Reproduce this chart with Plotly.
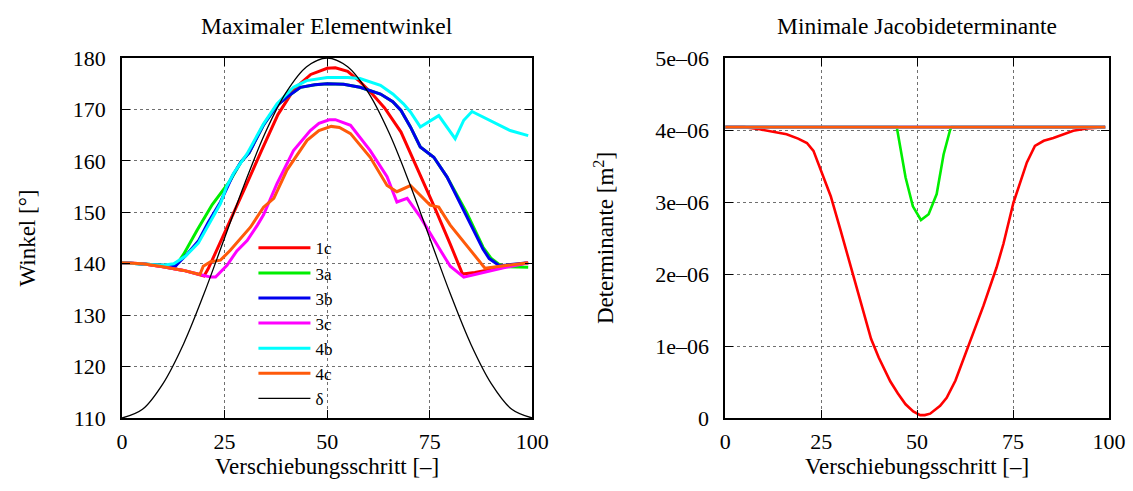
import plotly.graph_objects as go

# ---------------- data: left panel (Maximaler Elementwinkel) ----------------
x_1c = [0, 5, 10, 15, 20, 21, 23, 26, 30, 34, 38, 42, 46, 50, 52, 55, 58, 61, 64, 68, 72, 76, 80, 83, 86, 90, 95, 99]
y_1c = [140.2, 140.0, 139.4, 138.7, 137.6, 139.0, 142.5, 147.7, 154.8, 162.0, 169.0, 174.0, 176.8, 178.0, 178.1, 177.4, 175.4, 173.0, 170.3, 165.6, 158.5, 151.3, 143.8, 138.0, 138.3, 138.9, 139.6, 140.2]

x_3a = [0, 5, 10, 13, 15, 18.3, 22, 26.4, 29, 31, 34.5, 37.8, 40.2, 43.5, 47, 50, 54, 58, 63, 66, 68, 70.3, 72.7, 76, 79.2, 84, 88, 90, 92, 94, 99]
y_3a = [140.2, 140.0, 139.7, 139.5, 141.8, 146.5, 151.5, 156.2, 159.8, 161.6, 167.0, 170.8, 172.4, 174.3, 174.8, 175.0, 174.9, 174.3, 173.0, 171.5, 169.8, 166.6, 162.7, 160.7, 156.9, 149.9, 143.2, 141.0, 139.8, 139.4, 139.3]

x_3b = [0, 5, 10, 13, 16, 18.6, 21, 24, 27, 29, 31, 34.5, 37.8, 40.2, 43.5, 47, 50, 54, 58, 63, 66, 68, 70.3, 72.7, 76, 79.2, 83.3, 88, 89.5, 92, 99]
y_3b = [140.2, 140.0, 139.7, 139.5, 142.0, 144.4, 148.0, 152.0, 157.2, 159.8, 161.6, 167.0, 170.8, 172.4, 174.3, 174.8, 175.0, 174.9, 174.3, 173.0, 171.5, 169.8, 166.6, 162.7, 160.7, 156.9, 150.4, 142.8, 141.0, 139.6, 140.2]

x_3c = [0, 5, 10, 15, 19, 21.6, 22.8, 25.6, 28, 30.5, 33, 34.5, 37.8, 41.8, 45.9, 48, 50.5, 52, 55.7, 60.5, 64.6, 67, 69.5, 72.7, 77.6, 80, 83.3, 88, 93, 99]
y_3c = [140.2, 140.0, 139.4, 138.7, 137.9, 137.4, 137.4, 139.7, 142.5, 144.5, 147.5, 149.5, 155.6, 162.0, 165.9, 167.3, 168.0, 168.0, 166.9, 162.0, 156.9, 152.0, 152.7, 149.1, 142.6, 139.5, 137.4, 138.3, 139.2, 140.2]

x_4b = [0, 5, 10, 12.6, 15.5, 18.6, 21, 24, 25.5, 27.2, 30.5, 32, 34.5, 37.8, 41.8, 45, 50, 55, 58, 63, 66, 68.6, 70.3, 72.7, 77.2, 81.2, 83.3, 85.3, 90.6, 94.6, 99]
y_4b = [140.2, 140.0, 139.7, 140.0, 141.5, 144.0, 147.5, 151.7, 155.0, 157.6, 161.4, 163.5, 167.2, 171.1, 174.3, 175.6, 176.2, 176.2, 176.0, 174.7, 173.0, 171.1, 169.5, 166.6, 168.8, 164.3, 167.9, 169.6, 167.5, 165.9, 164.9]

x_4c = [0, 5, 10, 15, 19, 19.8, 21.6, 24, 26.4, 28, 31.3, 34.5, 37, 40.2, 45.1, 48, 51, 53, 55.7, 60.5, 64.6, 67, 70.3, 75.1, 77.2, 80, 84.9, 88.5, 93, 99]
y_4c = [140.2, 140.0, 139.4, 138.7, 137.9, 139.5, 140.4, 140.7, 142.6, 144.0, 147.1, 151.0, 152.7, 158.2, 164.0, 165.9, 166.7, 166.5, 165.3, 160.7, 155.2, 154.0, 155.2, 151.4, 151.0, 147.5, 142.6, 139.1, 139.6, 140.2]

x_delta = [0, 5, 10, 15, 20, 25, 30, 35, 40, 45, 50, 55, 60, 65, 70, 75, 80, 85, 90, 95, 100]
y_delta = [110.0, 111.7, 116.7, 124.4, 134.2, 145.0, 155.8, 165.6, 173.3, 178.3, 180.0, 178.3, 173.3, 165.6, 155.8, 145.0, 134.2, 124.4, 116.7, 111.7, 110.0]

# ---------------- data: right panel (Minimale Jacobideterminante) ----------------
xj_1c = [0, 5, 9, 13, 16, 19, 21.3, 23, 25, 27.5, 30, 33, 35, 38, 40, 43, 45, 47, 49, 50.8, 52, 53.4, 56, 57.7, 60, 62.9, 65, 67.3, 70.7, 72.5, 75.1, 77, 78.6, 80.7, 83, 85.5, 90.7, 94.2, 99]
yj_1c = [4.04e-6, 4.04e-6, 4.01e-6, 3.97e-6, 3.94e-6, 3.88e-6, 3.82e-6, 3.71e-6, 3.43e-6, 3.08e-6, 2.62e-6, 2.05e-6, 1.68e-6, 1.10e-6, 0.84e-6, 0.51e-6, 0.34e-6, 0.19e-6, 0.09e-6, 0.04e-6, 0.04e-6, 0.06e-6, 0.17e-6, 0.28e-6, 0.52e-6, 0.93e-6, 1.22e-6, 1.56e-6, 2.09e-6, 2.42e-6, 2.99e-6, 3.28e-6, 3.55e-6, 3.78e-6, 3.85e-6, 3.89e-6, 3.99e-6, 4.02e-6, 4.04e-6]

xj_3a = [0, 44.7, 47, 48.9, 51, 53, 55.1, 56.9, 58.6, 59, 99]
yj_3a = [4.04e-6, 4.04e-6, 3.34e-6, 2.94e-6, 2.75e-6, 2.83e-6, 3.11e-6, 3.66e-6, 4.0e-6, 4.04e-6, 4.04e-6]

xj_flat = [0, 99]
yj_3b = [4.04e-6, 4.04e-6]
yj_3c = [4.04e-6, 4.04e-6]
yj_4b = [4.04e-6, 4.04e-6]
yj_4c = [4.04e-6, 4.04e-6]

# ticks
x_ticks = [0, 25, 50, 75, 100]
y_ticks_left = [110, 120, 130, 140, 150, 160, 170, 180]
y_ticks_right = [0, 1e-6, 2e-6, 3e-6, 4e-6, 5e-6]
y_ticktext_right = ["0", "1e\u201306", "2e\u201306", "3e\u201306", "4e\u201306", "5e\u201306"]

names = ["1c", "3a", "3b", "3c", "4b", "4c"]
colors = ["#ff0000", "#00ee00", "#0000ee", "#ff00ff", "#00ffff", "#ff5a0a"]

FONT = "Liberation Serif, Times New Roman, serif"

# figure geometry (pixels)
W, H = 1133, 491
L, R, T, B = 121.5, 1109.0, 57.5, 418.0
PW, PH = R - L, B - T


def px(xp):
    return (xp - L) / PW


def py(yp):
    return (B - yp) / PH


fig = go.Figure()

left_series = [(x_1c, y_1c), (x_3a, y_3a), (x_3b, y_3b), (x_3c, y_3c), (x_4b, y_4b), (x_4c, y_4c)]
for (xs, ys), n, c in zip(left_series, names, colors):
    fig.add_trace(go.Scatter(x=xs, y=ys, mode="lines", name=n, legendgroup=n,
                             line=dict(color=c, width=3), xaxis="x", yaxis="y"))
fig.add_trace(go.Scatter(x=x_delta, y=y_delta, mode="lines", name="\u03b4",
                         line=dict(color="black", width=1.3, shape="spline"), xaxis="x", yaxis="y"))

right_series = [(xj_1c, yj_1c), (xj_3a, yj_3a), (xj_flat, yj_3b), (xj_flat, yj_3c), (xj_flat, yj_4b), (xj_flat, yj_4c)]
for (xs, ys), n, c in zip(right_series, names, colors):
    fig.add_trace(go.Scatter(x=xs, y=ys, mode="lines", name=n, legendgroup=n, showlegend=False,
                             line=dict(color=c, width=2.6), xaxis="x2", yaxis="y2"))

axis_common = dict(
    showline=True, linecolor="black", linewidth=1.5, mirror="ticks",
    ticks="inside", ticklen=8, tickwidth=1.2, tickcolor="black",
    showgrid=True, gridcolor="#707070", gridwidth=1, griddash="dot",
    zeroline=False, automargin=False,
    tickfont=dict(family=FONT, size=22, color="black"),
)

title_font = dict(family=FONT, size=23, color="black")

fig.update_layout(
    width=W, height=H,
    margin=dict(l=L, r=W - R, t=T, b=H - B, pad=0),
    paper_bgcolor="white", plot_bgcolor="white",
    font=dict(family=FONT, size=22, color="black"),
    xaxis=dict(domain=[0, px(532)], range=[0, 100], tickvals=x_ticks,
               title=dict(text="Verschiebungsschritt [\u2013]", font=title_font, standoff=0),
               ticklabelstandoff=3, **axis_common),
    yaxis=dict(domain=[0, 1], range=[110, 180], tickvals=y_ticks_left,
               title=dict(text="Winkel [\u00b0]", font=title_font, standoff=31),
               ticklabelstandoff=10, **axis_common),
    xaxis2=dict(domain=[px(725), 1], range=[0, 100], tickvals=x_ticks, anchor="y2",
                title=dict(text="Verschiebungsschritt [\u2013]", font=title_font, standoff=0),
                ticklabelstandoff=3, **axis_common),
    yaxis2=dict(domain=[0, 1], range=[0, 5e-6], tickvals=y_ticks_right, ticktext=y_ticktext_right, anchor="x2",
                title=dict(text="Determinante [m<sup>2</sup>]", font=title_font, standoff=35),
                ticklabelstandoff=10, **axis_common),
    legend=dict(x=px(253), y=py(230), xanchor="left", yanchor="top",
                bgcolor="rgba(0,0,0,0)", font=dict(family=FONT, size=17),
                tracegroupgap=0, itemwidth=52),
    annotations=[
        dict(text="Maximaler Elementwinkel", x=px((121.5 + 532) / 2), y=py(25),
             xref="paper", yref="paper", xanchor="center", yanchor="middle", showarrow=False,
             font=dict(family=FONT, size=23.5, color="black")),
        dict(text="Minimale Jacobideterminante", x=px((725 + 1109) / 2), y=py(25),
             xref="paper", yref="paper", xanchor="center", yanchor="middle", showarrow=False,
             font=dict(family=FONT, size=23.5, color="black")),
    ],
)

fig.write_html("out.html")
